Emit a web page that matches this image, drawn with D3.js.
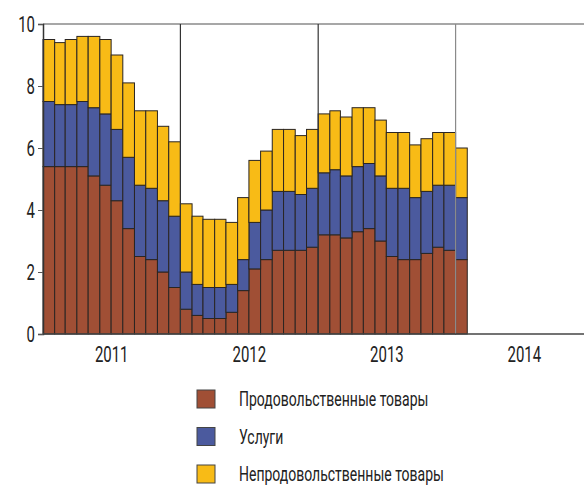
<!DOCTYPE html>
<html>
<head>
<meta charset="utf-8">
<script src="https://cdn.jsdelivr.net/npm/d3@7"></script>
<style>
  html, body { margin: 0; padding: 0; background: #fff; }
  svg { display: block; }
  text { font-family: Roboto, "Noto Sans", sans-serif; font-weight: 400; fill: #222; }
</style>
</head>
<body>
<script>
// Monthly contributions, Jan 2011 – Jan 2014
const months = d3.range(37).map(i => new Date(2011, i, 1));
const food = [5.4,5.4,5.4,5.4,5.1,4.8,4.3,3.4,2.5,2.4,2.0,1.5,
              0.8,0.6,0.5,0.5,0.7,1.4,2.1,2.4,2.7,2.7,2.7,2.8,
              3.2,3.2,3.1,3.3,3.4,3.0,2.5,2.4,2.4,2.6,2.8,2.7,
              2.4];
const services = [2.1,2.0,2.0,2.1,2.2,2.3,2.3,2.3,2.3,2.3,2.3,2.3,
                  1.2,1.0,1.0,1.0,0.9,1.0,1.5,1.6,1.9,1.9,1.8,1.9,
                  2.0,2.1,2.0,2.1,2.1,2.1,2.2,2.3,2.0,2.0,2.0,2.1,
                  2.0];
const nonFood = [2.0,2.0,2.1,2.1,2.3,2.4,2.4,2.4,2.4,2.5,2.4,2.4,
                 2.2,2.2,2.2,2.2,2.0,2.0,2.0,1.9,2.0,2.0,1.9,1.9,
                 1.9,1.9,1.9,1.9,1.8,1.8,1.8,1.8,1.7,1.7,1.7,1.7,
                 1.6];
const seriesNames = ["Продовольственные товары", "Услуги", "Непродовольственные товары"];
const seriesColors = ["#a04f35", "#4b5a9e", "#f8bb16"];
const yTicks = [0, 2, 4, 6, 8, 10];
const yearTicks = [2011, 2012, 2013, 2014];

const W = 584, H = 485;
const m = { left: 43, top: 24, bottom: 334 };
const narrow = 0.68;   // horizontal squeeze for the condensed lettering

const svg = d3.select("body").append("svg").attr("width", W).attr("height", H);

const x = d3.scaleTime()
  .domain([new Date(2011, 0, 1), new Date(2015, 0, 1)])
  .range([m.left, m.left + 4 * 137.5]);
const y = d3.scaleLinear().domain([0, 10]).range([m.bottom, m.top]);

const rows = months.map((d, i) => ({ date: d, food: food[i], services: services[i], nonFood: nonFood[i] }));
const keys = ["food", "services", "nonFood"];
const stacked = d3.stack().keys(keys)(rows);

// top frame line
svg.append("line")
  .attr("x1", m.left).attr("x2", W)
  .attr("y1", m.top).attr("y2", m.top)
  .attr("stroke", "#8a8a8a").attr("stroke-width", 1.5);

// bars
const layer = svg.append("g").selectAll("g").data(stacked).join("g")
  .attr("fill", (d, i) => seriesColors[i]);
layer.selectAll("rect").data(d => d).join("rect")
  .attr("x", d => x(d.data.date))
  .attr("width", d => x(d3.timeMonth.offset(d.data.date, 1)) - x(d.data.date))
  .attr("y", d => y(d[1]))
  .attr("height", d => y(d[0]) - y(d[1]))
  .attr("stroke", "#2a2522").attr("stroke-width", 1);

// year separators
svg.append("g").selectAll("line").data(yearTicks.slice(1)).join("line")
  .attr("x1", d => x(new Date(d, 0, 1))).attr("x2", d => x(new Date(d, 0, 1)))
  .attr("y1", m.top).attr("y2", m.bottom)
  .attr("stroke", (d, i) => i === 2 ? "#8a8a8a" : "#333").attr("stroke-width", 1.2);

// y axis
const yAxis = svg.append("g").attr("transform", `translate(${m.left},0)`)
  .call(d3.axisLeft(y).tickValues(yTicks).tickSize(5).tickPadding(4).tickFormat(d3.format("d")));
yAxis.select(".domain").attr("stroke", "#333").attr("stroke-width", 1.5);
yAxis.selectAll(".tick line").attr("stroke", "#555");
yAxis.selectAll(".tick text")
  .attr("font-size", 22)
  .attr("transform", `translate(-8,0) scale(${narrow},1)`)
  .attr("x", 0)
  .style("fill", "#222");

// x axis baseline
svg.append("line")
  .attr("x1", m.left).attr("x2", W)
  .attr("y1", m.bottom).attr("y2", m.bottom)
  .attr("stroke", "#444").attr("stroke-width", 1.5);

// year labels centred within each year
svg.append("g").selectAll("text").data(yearTicks).join("text")
  .attr("transform", d => `translate(${(x(new Date(d, 0, 1)) + x(new Date(d + 1, 0, 1))) / 2},362) scale(${narrow},1)`)
  .attr("text-anchor", "middle")
  .attr("font-size", 22)
  .text(d => d);

// legend
const legend = svg.append("g").selectAll("g").data(seriesNames).join("g")
  .attr("transform", (d, i) => `translate(197,${390 + i * 37.5})`);
legend.append("rect")
  .attr("width", 18).attr("height", 18)
  .attr("fill", (d, i) => seriesColors[i])
  .attr("stroke", "#444").attr("stroke-width", 1);
legend.append("text")
  .attr("transform", `translate(42,9) scale(0.7,1)`)
  .attr("dy", "0.36em")
  .attr("font-size", 20)
  .text(d => d);
</script>
</body>
</html>
